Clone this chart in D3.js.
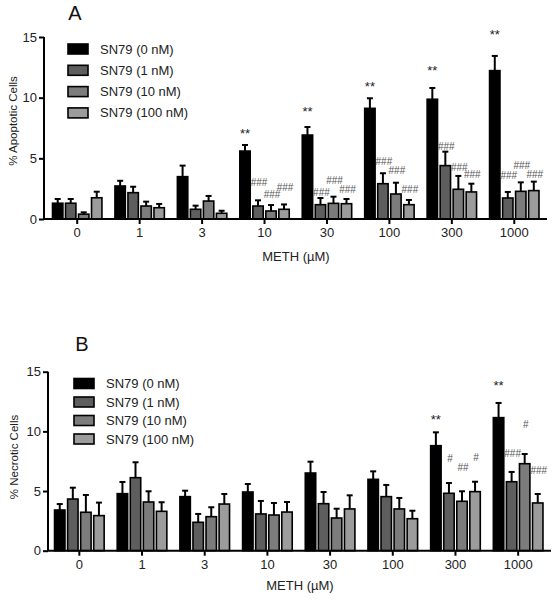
<!DOCTYPE html>
<html>
<head>
<meta charset="utf-8">
<script src="https://cdn.jsdelivr.net/npm/d3@7/dist/d3.min.js"></script>
<style>
  html, body { margin: 0; padding: 0; background: #fff; }
  svg { display: block; font-family: "Liberation Sans", Arial, Helvetica, sans-serif; }
</style>
</head>
<body>
<svg id="chart" width="555" height="600"></svg>
<script>
// ---------- DATA ----------
const groups = ["0", "1", "3", "10", "30", "100", "300", "1000"];
const seriesNames = ["SN79 (0 nM)", "SN79 (1 nM)", "SN79 (10 nM)", "SN79 (100 nM)"];
const seriesColors = ["#000000", "#5e5e5e", "#7c7c7c", "#9c9c9c"];
const yTickValues = [0, 5, 10, 15];
const xTitle = "METH (\u00B5M)";

// Panel A: % apoptotic cells (mean, SEM) per series
const apoMean0 = [1.3, 2.72, 3.49, 5.6, 6.92, 9.12, 9.87, 12.23];
const apoMean1 = [1.3, 2.17, 0.8, 1.07, 1.18, 2.91, 4.4, 1.73];
const apoMean10 = [0.4, 1.07, 1.48, 0.66, 1.29, 2.06, 2.45, 2.28];
const apoMean100 = [1.75, 0.93, 0.47, 0.8, 1.26, 1.18, 2.23, 2.34];
const apoErr0 = [0.35, 0.43, 0.91, 0.5, 0.66, 0.83, 0.93, 1.21];
const apoErr1 = [0.35, 0.49, 0.3, 0.47, 0.55, 0.86, 1.15, 0.5];
const apoErr10 = [0.15, 0.36, 0.42, 0.49, 0.55, 0.93, 1.1, 0.74];
const apoErr100 = [0.5, 0.31, 0.21, 0.4, 0.39, 0.39, 0.68, 0.74];
// significance marks: [group, series index, label, level (data units)]
const apoMarks = [
  ["10", 0, "**", 7.34], ["30", 0, "**", 9.18], ["100", 0, "**", 11.24], ["300", 0, "**", 12.56], ["1000", 0, "**", 15.5],
  ["10", 1, "###", 2.99], ["10", 2, "###", 2.06], ["10", 3, "###", 2.56],
  ["30", 1, "###", 2.17], ["30", 2, "###", 3.16], ["30", 3, "###", 2.47],
  ["100", 1, "###", 4.72], ["100", 2, "###", 3.98], ["100", 3, "###", 2.45],
  ["300", 1, "###", 5.94], ["300", 2, "###", 4.26], ["300", 3, "###", 3.63],
  ["1000", 1, "###", 3.57], ["1000", 2, "###", 4.43], ["1000", 3, "###", 3.63]
];

// Panel B: % necrotic cells
const necMean0 = [3.41, 4.78, 4.53, 4.92, 6.51, 5.98, 8.8, 11.15];
const necMean1 = [4.33, 6.12, 2.38, 3.08, 3.94, 4.53, 4.81, 5.78];
const necMean10 = [3.22, 4.08, 2.85, 2.99, 2.74, 3.5, 4.14, 7.29];
const necMean100 = [2.94, 3.3, 3.91, 3.24, 3.5, 2.68, 4.95, 4.0];
const necErr0 = [0.5, 0.98, 0.5, 0.67, 0.95, 0.67, 1.12, 1.23];
const necErr1 = [0.95, 1.29, 0.7, 1.09, 0.98, 0.98, 0.86, 0.82];
const necErr10 = [1.45, 0.9, 0.79, 1.01, 0.78, 0.92, 0.84, 0.81];
const necErr100 = [1.09, 0.76, 0.84, 0.84, 1.14, 0.67, 0.83, 0.75];
const necMarks = [
  ["300", 0, "**", 11.32], ["1000", 0, "**", 14.12],
  ["300", 1, "#", 7.69], ["300", 2, "##", 6.99], ["300", 3, "#", 7.8],
  ["1000", 1, "###", 8.16], ["1000", 2, "#", 10.54], ["1000", 3, "###", 6.71]
];

// ---------- DRAW ----------
const svg = d3.select("#chart");

function drawPanel(cfg) {
  const g = svg.append("g");
  const y = d3.scaleLinear().domain([0, 15]).range([cfg.y0, cfg.y15]);
  const x0 = d3.scaleBand().domain(groups).range(cfg.xRange);
  const x1 = d3.scaleBand().domain(d3.range(4)).range([0, x0.bandwidth()])
    .paddingInner(0.2).paddingOuter(0.5);

  const rows = [];
  cfg.means.forEach((arr, s) => arr.forEach((v, i) => {
    rows.push({ group: groups[i], s: s, v: v, e: cfg.errs[s][i] });
  }));

  // error bars (drawn first, bars over them)
  const eb = g.append("g").attr("stroke", "#000").attr("stroke-width", 2).attr("fill", "none");
  rows.forEach(d => {
    const cx = x0(d.group) + x1(d.s) + x1.bandwidth() / 2;
    eb.append("line").attr("x1", cx).attr("x2", cx).attr("y1", y(d.v)).attr("y2", y(d.v + d.e));
    eb.append("line").attr("x1", cx - 3).attr("x2", cx + 3).attr("y1", y(d.v + d.e)).attr("y2", y(d.v + d.e));
  });

  // bars
  g.append("g").selectAll("rect").data(rows).join("rect")
    .attr("x", d => x0(d.group) + x1(d.s))
    .attr("width", x1.bandwidth())
    .attr("y", d => y(d.v))
    .attr("height", d => y(0) - y(d.v))
    .attr("fill", d => seriesColors[d.s])
    .attr("stroke", "#000")
    .attr("stroke-width", 1.6);

  // y axis
  const yAxis = g.append("g").attr("transform", `translate(${cfg.axisX},0)`)
    .call(d3.axisLeft(y).tickValues(yTickValues).tickSize(5).tickPadding(2).tickFormat(d3.format("d")));
  yAxis.select(".domain").attr("stroke-width", 2).attr("d", `M0,${cfg.y0}V${cfg.y15}`);
  yAxis.selectAll(".tick line").attr("stroke-width", 2);
  yAxis.selectAll("text").attr("font-size", 13).attr("fill", "#222")
    .attr("font-family", "Liberation Sans, Arial, sans-serif");

  // x axis
  const xAxis = g.append("g").attr("transform", `translate(0,${cfg.y0})`)
    .call(d3.axisBottom(x0).tickSize(5).tickPadding(4));
  xAxis.select(".domain").attr("stroke-width", 2).attr("d", `M${cfg.axisX},0H${cfg.axisEnd}`);
  xAxis.selectAll(".tick line").attr("stroke-width", 2);
  xAxis.selectAll("text").attr("font-size", 13).attr("fill", "#222")
    .attr("font-family", "Liberation Sans, Arial, sans-serif");

  // marks
  cfg.marks.forEach(m => {
    const cx = x0(m[0]) + x1(m[1]) + x1.bandwidth() / 2;
    const isStar = m[2].indexOf("*") >= 0;
    g.append("text")
      .attr("x", cx + (isStar ? 0 : 1))
      .attr("y", y(m[3]) + (isStar ? 8 : 3.5))
      .attr("text-anchor", "middle")
      .attr("font-size", isStar ? 13 : 10)
      .attr("fill", isStar ? "#222" : "#555")
      .text(m[2]);
  });

  // legend
  seriesNames.forEach((name, i) => {
    const cy = cfg.legY + i * cfg.legStep;
    g.append("rect").attr("x", cfg.legX).attr("y", cy - 5).attr("width", 20).attr("height", 10)
      .attr("fill", seriesColors[i]).attr("stroke", "#000").attr("stroke-width", 1.6);
    g.append("text").attr("x", cfg.legX + 32).attr("y", cy + 4.5)
      .attr("font-size", 13).attr("fill", "#222").text(name);
  });

  // titles
  g.append("text").attr("x", cfg.xTitleX).attr("y", cfg.xTitleY).attr("text-anchor", "middle")
    .attr("font-size", 13).attr("fill", "#222").text(xTitle);
  g.append("text")
    .attr("transform", `translate(${cfg.yTitleX},${cfg.yTitleY}) rotate(-90)`)
    .attr("text-anchor", "middle").attr("font-size", 11.5).attr("fill", "#222").text(cfg.yTitle);
  g.append("text").attr("x", cfg.letterX).attr("y", cfg.letterY).attr("text-anchor", "middle")
    .attr("font-size", 20).attr("fill", "#111").text(cfg.letter);
}

drawPanel({
  means: [apoMean0, apoMean1, apoMean10, apoMean100],
  errs: [apoErr0, apoErr1, apoErr10, apoErr100],
  marks: apoMarks,
  y0: 219, y15: 37, axisX: 44, axisEnd: 547, xRange: [46, 545.5],
  legX: 68, legY: 49, legStep: 21.3,
  xTitleX: 296, xTitleY: 261,
  yTitleX: 17, yTitleY: 121, yTitle: "% Apoptotic Cells",
  letter: "A", letterX: 75, letterY: 20
});

drawPanel({
  means: [necMean0, necMean1, necMean10, necMean100],
  errs: [necErr0, necErr1, necErr10, necErr100],
  marks: necMarks,
  y0: 550.7, y15: 371.7, axisX: 48, axisEnd: 551, xRange: [48, 549.5],
  legX: 74, legY: 383.5, legStep: 18.5,
  xTitleX: 300, xTitleY: 590,
  yTitleX: 18, yTitleY: 457, yTitle: "% Necrotic Cells",
  letter: "B", letterX: 82, letterY: 351
});
</script>
</body>
</html>
